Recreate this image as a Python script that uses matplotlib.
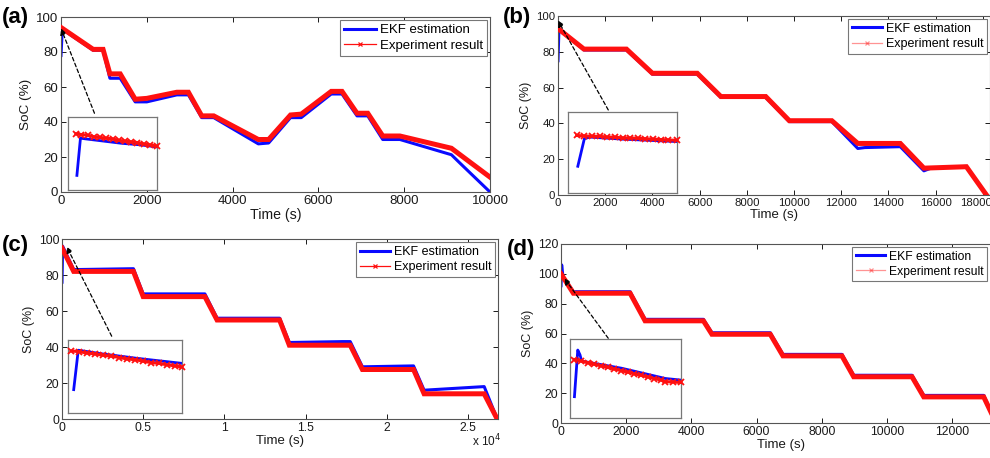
import numpy as np
import matplotlib
matplotlib.use("Agg")
import matplotlib.pyplot as plt
from matplotlib.lines import Line2D
from matplotlib.transforms import ScaledTranslation

plt.rcParams['font.family'] = ['Liberation Sans', 'DejaVu Sans']

W, H = 990, 458
BLUE = '#0a0aff'
RED = '#ff1010'

# ---------------- data ----------------
# (a)
a_exp_t = [0, 750, 980, 1140, 1380, 1730, 2000, 2700, 2970, 3280, 3560, 4600, 4840, 5350, 5600, 6300, 6550, 6900, 7150, 7500, 7900, 9100, 10000]
a_exp_y = [94, 81.5, 81.5, 67.5, 67.5, 53, 53.5, 57, 57, 43.5, 43.5, 30, 30, 44, 44.5, 57.5, 57.5, 45, 45, 32, 32, 25, 8.5]
a_ekf_t = [0, 30, 750, 980, 1140, 1380, 1730, 2000, 2700, 2970, 3280, 3560, 4600, 4840, 5350, 5600, 6300, 6550, 6900, 7150, 7500, 7900, 9100, 9300, 10000]
a_ekf_y = [78, 93, 81, 81, 65, 65, 51.5, 51.5, 55.5, 55.5, 42.5, 42.5, 27.5, 28, 42.5, 42.5, 56, 56, 43.5, 43.5, 30, 30, 21.3, 16.5, 0]
# (b)
b_exp_t = [0, 1100, 2900, 4000, 5900, 6900, 8800, 9800, 11600, 12700, 14500, 15500, 17300, 18150]
b_exp_y = [93, 81.5, 81.5, 68, 68, 55, 55, 41.5, 41.5, 28.8, 28.8, 15, 15.8, 0]
b_ekf_t = [0, 40, 1100, 2900, 4000, 5900, 6900, 8800, 9800, 11600, 12700, 13000, 14500, 15500, 15800, 17300, 18150]
b_ekf_y = [75, 93, 81, 81, 67.5, 67.5, 54.5, 54.5, 41, 41, 26, 26.5, 27, 13.5, 15, 16, 0]
# (c)
c_exp_t = [0, 720, 4400, 5000, 8800, 9550, 13400, 14000, 17750, 18500, 21650, 22300, 26000, 26800]
c_exp_y = [95, 82, 82, 68, 68, 55, 55, 41, 41, 27.5, 27.5, 14, 14, 0]
c_ekf_t = [0, 40, 720, 4400, 5000, 8800, 9550, 13400, 14000, 17300, 17750, 18500, 21650, 22300, 26000, 26800]
c_ekf_y = [76, 96, 83, 83.5, 69.5, 69.5, 56, 56, 42.5, 43, 43, 29, 29.5, 16, 18, 0]
c_ticks = [0, 5000, 10000, 15000, 20000, 25000]
c_ticklabels = ['0', '0.5', '1', '1.5', '2', '2.5']
# (d)
d_exp_t = [0, 380, 2120, 2580, 4370, 4630, 6420, 6810, 8620, 8980, 10770, 11130, 12970, 13350]
d_exp_y = [100, 87, 87, 68.5, 68.5, 59.5, 59.5, 45, 45, 31, 31, 17.5, 17.5, 0]
d_ekf_t = [0, 20, 60, 380, 2120, 2580, 4370, 4630, 6420, 6810, 8620, 8980, 10770, 11130, 12970, 13350]
d_ekf_y = [92, 106, 98, 88, 88, 69.5, 69.5, 60.5, 60.5, 46, 46, 32, 32, 18.5, 18.5, 0]

# insets (zoomed start, normalised units)
ia_exp_x = [0.09, 0.15, 0.22, 0.29, 0.36, 0.43, 0.50, 0.57, 0.64, 0.71, 0.78, 0.85, 0.92, 1.0]
ia_exp_y = [0.77, 0.76, 0.75, 0.73, 0.72, 0.71, 0.70, 0.68, 0.67, 0.66, 0.65, 0.63, 0.62, 0.60]
ia_ekf_x = [0.10, 0.14, 0.20, 0.40, 0.60, 0.80, 1.0]
ia_ekf_y = [0.20, 0.71, 0.70, 0.67, 0.64, 0.62, 0.59]

ib_exp_x = [0.08, 0.15, 0.22, 0.29, 0.36, 0.43, 0.50, 0.57, 0.64, 0.71, 0.78, 0.85, 0.92, 1.0]
ib_exp_y = [0.71, 0.705, 0.70, 0.70, 0.69, 0.69, 0.68, 0.68, 0.675, 0.67, 0.665, 0.66, 0.655, 0.65]
ib_ekf_x = [0.09, 0.15, 0.20, 0.50, 0.75, 1.0]
ib_ekf_y = [0.33, 0.67, 0.69, 0.665, 0.65, 0.635]

ic_exp_x = [0.03, 0.10, 0.17, 0.24, 0.31, 0.38, 0.45, 0.52, 0.59, 0.66, 0.73, 0.80, 0.87, 0.94, 1.0]
ic_exp_y = [0.85, 0.84, 0.82, 0.81, 0.79, 0.78, 0.76, 0.74, 0.73, 0.71, 0.69, 0.68, 0.66, 0.645, 0.63]
ic_ekf_x = [0.05, 0.09, 0.30, 0.60, 1.0]
ic_ekf_y = [0.32, 0.86, 0.81, 0.75, 0.68]

id_exp_x = [0.04, 0.10, 0.16, 0.22, 0.28, 0.34, 0.40, 0.46, 0.52, 0.58, 0.64, 0.70, 0.76, 0.82, 0.86, 0.93, 1.0]
id_exp_y = [0.74, 0.72, 0.70, 0.68, 0.66, 0.64, 0.62, 0.60, 0.58, 0.56, 0.54, 0.52, 0.50, 0.48, 0.46, 0.455, 0.45]
id_ekf_x = [0.04, 0.07, 0.09, 0.105, 0.465, 0.86, 1.0]
id_ekf_y = [0.27, 0.86, 0.80, 0.72, 0.63, 0.50, 0.48]


def px_axes(fig, l, t, r, b):
    return fig.add_axes([l / W, 1 - b / H, (r - l) / W, (b - t) / H])


def style_main(ax, xlim, ylim, yticks, xticks, fs):
    ax.set_xlim(*xlim)
    ax.set_ylim(*ylim)
    ax.set_yticks(yticks)
    ax.set_xticks(xticks)
    ax.tick_params(direction='in', length=3.5, width=0.7, top=True, right=True,
                   labelsize=fs, colors='#1a1a1a', pad=2)
    for s in ax.spines.values():
        s.set_color('#555555')
        s.set_linewidth(0.8)


def draw_inset(fig, box, ex, ey, kx, ky):
    ins = px_axes(fig, *box)
    ins.plot(kx, ky, color=BLUE, lw=2.0, zorder=2)
    ins.plot(ex, ey, color=RED, lw=2.2, marker='x', ms=5, mew=1.3, zorder=3, clip_on=False)
    ins.set_xlim(0, 1)
    ins.set_ylim(0, 1)
    ins.set_xticks([])
    ins.set_yticks([])
    for s in ins.spines.values():
        s.set_color('#777777')
        s.set_linewidth(0.9)
    return ins


def legend(ax, fs, faded=False, anchor=(1, 1)):
    h1 = Line2D([], [], color=BLUE, lw=2.2)
    h2 = Line2D([], [], color=RED, lw=0.9, marker='x', ms=3, mew=0.9, alpha=0.45 if faded else 1)
    lg = ax.legend([h1, h2], ['EKF estimation', 'Experiment result'], loc='upper right',
                   bbox_to_anchor=anchor,
                   fontsize=fs, frameon=True, fancybox=False, framealpha=1,
                   edgecolor='#777777', borderaxespad=0.25, handlelength=2.4,
                   handletextpad=0.3, labelspacing=0.25, borderpad=0.3)
    lg.get_frame().set_linewidth(0.8)


fig = plt.figure(figsize=(W / 100, H / 100), dpi=100)

panels = [
    dict(box=(61, 17, 490, 192), et=a_exp_t, ey=a_exp_y, kt=a_ekf_t, ky=a_ekf_y,
         xlim=(0, 10000), ylim=(0, 100), yt=range(0, 101, 20), xt=range(0, 10001, 2000),
         ins=(68, 117, 157, 190), ia=(ia_exp_x, ia_exp_y, ia_ekf_x, ia_ekf_y),
         arr=((0, 93.5), (780, 45)), lab='(a)', labpos=(2, 17), fs=9.5, lfs=9.5, faded=False,
         anchor=(1, 1)),
    dict(box=(558, 16, 990, 195), et=b_exp_t, ey=b_exp_y, kt=b_ekf_t, ky=b_ekf_y,
         xlim=(0, 18300), ylim=(0, 100), yt=range(0, 101, 20), xt=range(0, 18001, 2000),
         ins=(568, 112, 677, 193), ia=(ib_exp_x, ib_exp_y, ib_ekf_x, ib_ekf_y),
         arr=((0, 97.5), (2130, 47.5)), lab='(b)', labpos=(503, 18), fs=8.2, lfs=9, faded=True,
         anchor=(1, 1)),
    dict(box=(62, 239, 498, 419), et=c_exp_t, ey=c_exp_y, kt=c_ekf_t, ky=c_ekf_y,
         xlim=(0, 26850), ylim=(0, 100), yt=range(0, 101, 20), xt=c_ticks,
         ins=(68, 340, 182, 413), ia=(ic_exp_x, ic_exp_y, ic_ekf_x, ic_ekf_y),
         arr=((290, 95.7), (3060, 46)), lab='(c)', labpos=(2, 245), fs=8.8, lfs=9, faded=False,
         anchor=(1, 1)),
    dict(box=(561, 244, 1001, 423), et=d_exp_t, ey=d_exp_y, kt=d_ekf_t, ky=d_ekf_y,
         xlim=(0, 13500), ylim=(0, 120), yt=range(0, 121, 20), xt=range(0, 12001, 2000),
         ins=(570, 339, 681, 418), ia=(id_exp_x, id_exp_y, id_ekf_x, id_ekf_y),
         arr=((100, 97), (1450, 56.8)), lab='(d)', labpos=(507, 249), fs=8.8, lfs=8.7, faded=True,
         anchor=((990 - 561) / 440, 1)),
]

for p in panels:
    ax = px_axes(fig, *p['box'])
    ax.plot(p['kt'], p['ky'], color=BLUE, lw=2.2, zorder=2)
    ax.plot(p['et'], p['ey'], color=RED, lw=3.6, zorder=3, solid_joinstyle='miter')
    style_main(ax, p['xlim'], p['ylim'], list(p['yt']), list(p['xt']), p['fs'])
    ax.set_xlabel('Time (s)', fontsize=max(p['fs'], 8.8) + 0.7, color='#1a1a1a', labelpad=1)
    ax.set_ylabel('SoC (%)', fontsize=max(p['fs'], 8.8) + 0.2, color='#1a1a1a', labelpad=3)
    legend(ax, p['lfs'], p['faded'], p['anchor'])
    ax.annotate('', xy=p['arr'][0], xytext=p['arr'][1],
                arrowprops=dict(arrowstyle='-|>', color='black', lw=0.9, ls=(0, (3, 2)),
                                mutation_scale=9, shrinkA=0, shrinkB=0), zorder=5)
    fig.text(p['labpos'][0] / W, 1 - p['labpos'][1] / H, p['lab'], fontsize=16,
             fontweight='bold', va='center', ha='left')
    draw_inset(fig, p['ins'], *p['ia'])
    if p['lab'] == '(c)':
        ax.set_xticklabels(c_ticklabels)
        fig.text(472 / W, 1 - 441 / H, r'x 10$^4$', fontsize=8.5, color='#1a1a1a',
                 va='center', ha='left')
    if p['lab'] == '(b)':
        # keep the last tick label ("18000") inside the figure
        last = ax.get_xticklabels()[-1]
        last.set_transform(last.get_transform() + ScaledTranslation(-7 / 100, 0, fig.dpi_scale_trans))

fig.savefig('out.png', dpi=100)
